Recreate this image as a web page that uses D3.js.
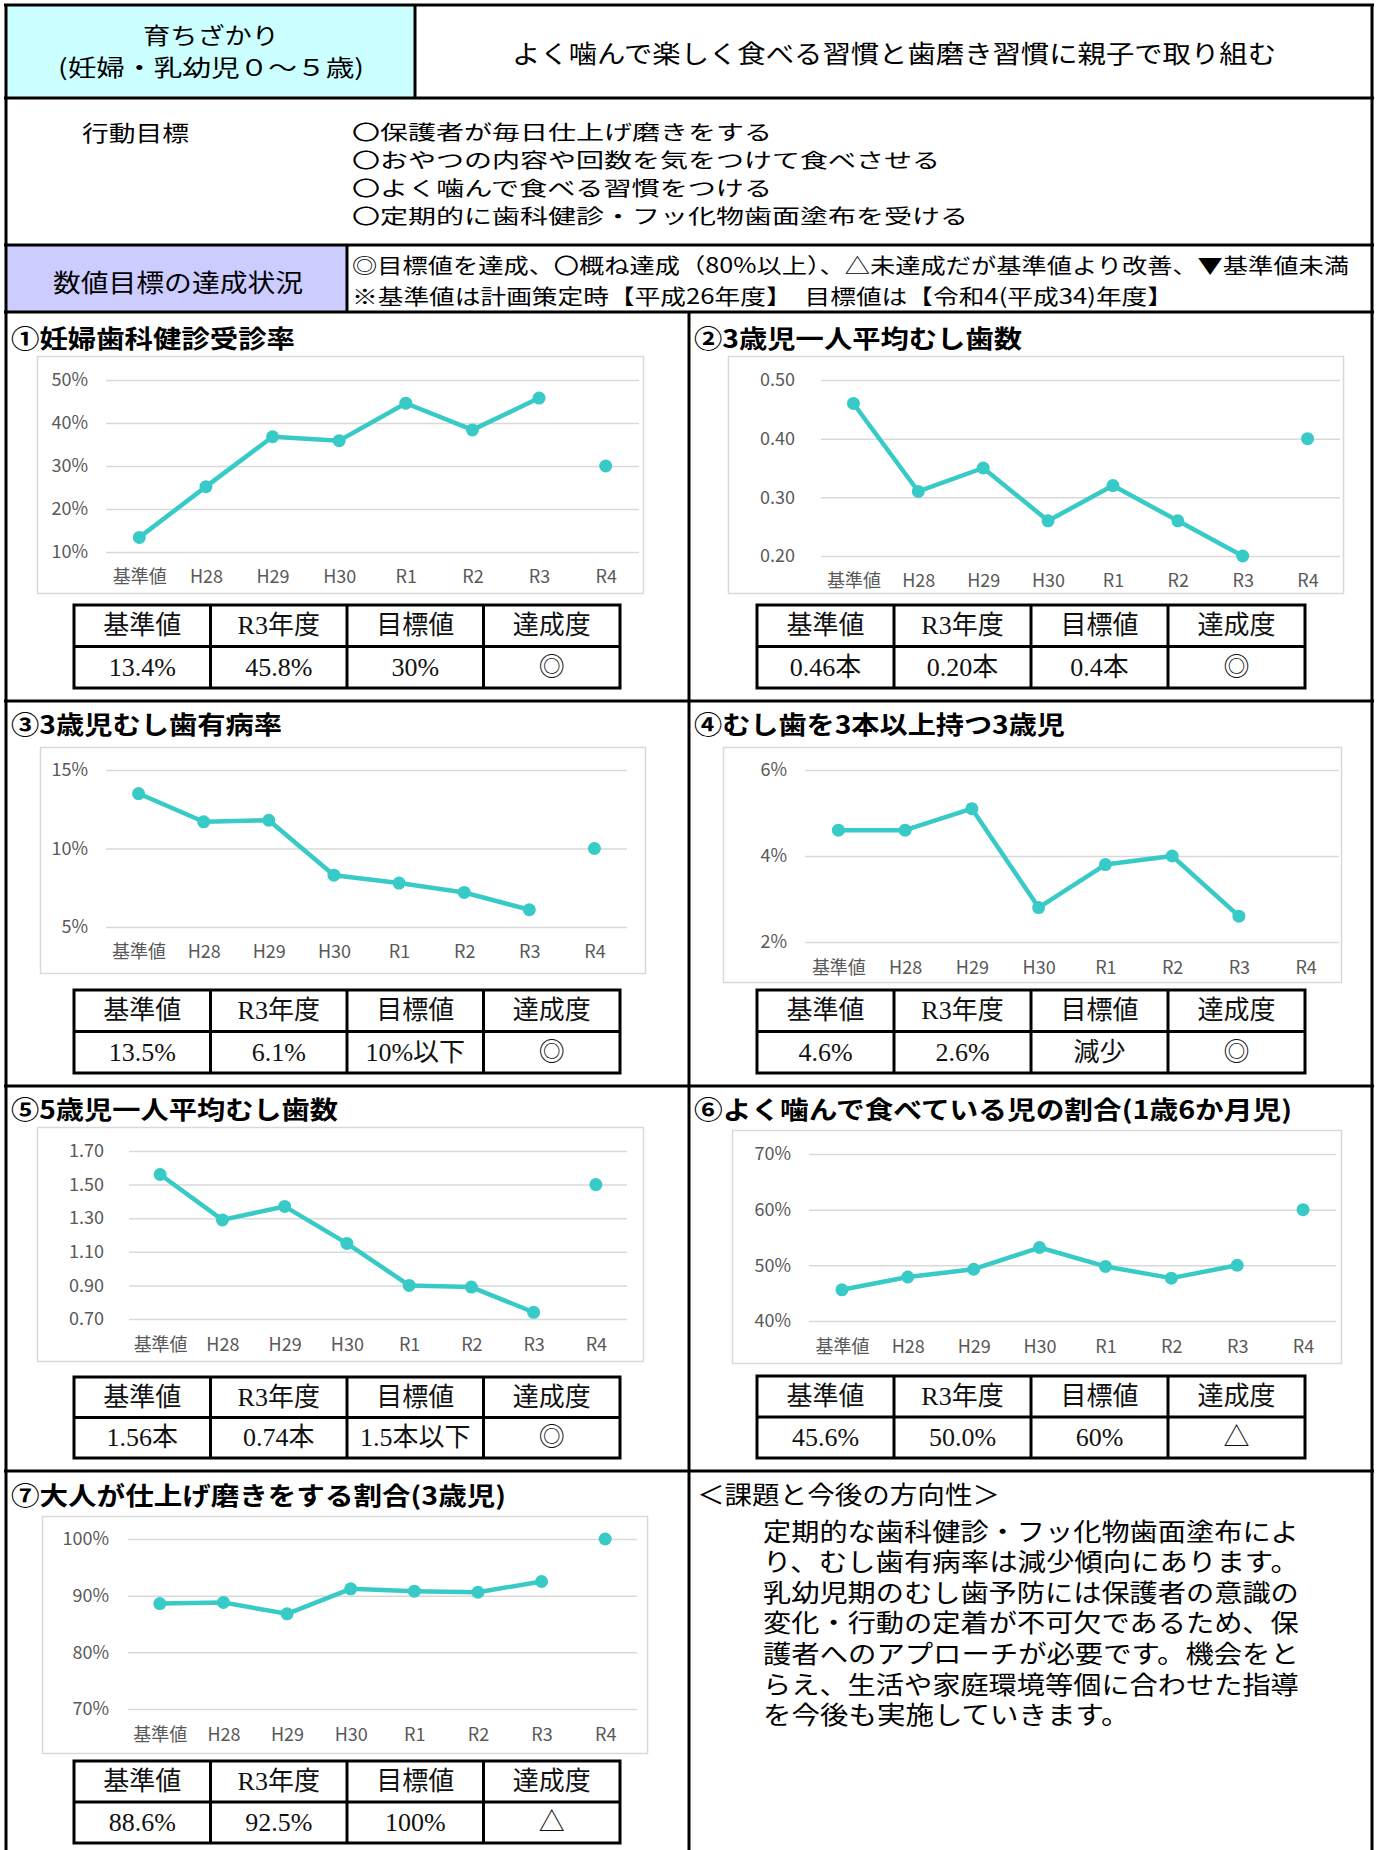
<!DOCTYPE html>
<html>
<head>
<meta charset="utf-8">
<script src="https://cdn.jsdelivr.net/npm/d3@7"></script>
<style>
  body { margin: 0; background: #fff; }
  svg { display: block; }
</style>
</head>
<body>
<div id="sheet"></div>
<script>
// categories shared by every chart
const years = ["基準値", "H28", "H29", "H30", "R1", "R2", "R3", "R4"];
const tableHeads = ["基準値", "R3年度", "目標値", "達成度"];

// ① 妊婦歯科健診受診率 (%)
const c1Values = [13.4, 25.2, 36.8, 35.9, 44.6, 38.4, 45.8];
const c1Target = 30;
const c1Ticks = [10, 20, 30, 40, 50];
const c1Table = ["13.4%", "45.8%", "30%", "◎"];

// ② 3歳児一人平均むし歯数 (本)
const c2Values = [0.46, 0.31, 0.35, 0.26, 0.32, 0.26, 0.20];
const c2Target = 0.40;
const c2Ticks = [0.2, 0.3, 0.4, 0.5];
const c2Table = ["0.46本", "0.20本", "0.4本", "◎"];

// ③ 3歳児むし歯有病率 (%)
const c3Values = [13.5, 11.7, 11.8, 8.3, 7.8, 7.2, 6.1];
const c3Target = 10;
const c3Ticks = [5, 10, 15];
const c3Table = ["13.5%", "6.1%", "10%以下", "◎"];

// ④ むし歯を3本以上持つ3歳児 (%)
const c4Values = [4.6, 4.6, 5.1, 2.8, 3.8, 4.0, 2.6];
const c4Target = null;
const c4Ticks = [2, 4, 6];
const c4Table = ["4.6%", "2.6%", "減少", "◎"];

// ⑤ 5歳児一人平均むし歯数 (本)
const c5Values = [1.56, 1.29, 1.37, 1.15, 0.90, 0.89, 0.74];
const c5Target = 1.50;
const c5Ticks = [0.7, 0.9, 1.1, 1.3, 1.5, 1.7];
const c5Table = ["1.56本", "0.74本", "1.5本以下", "◎"];

// ⑥ よく噛んで食べている児の割合 (%)
const c6Values = [45.6, 47.9, 49.3, 53.2, 49.8, 47.7, 50.0];
const c6Target = 60;
const c6Ticks = [40, 50, 60, 70];
const c6Table = ["45.6%", "50.0%", "60%", "△"];

// ⑦ 大人が仕上げ磨きをする割合 (%)
const c7Values = [88.6, 88.8, 86.8, 91.2, 90.8, 90.6, 92.5];
const c7Target = 100;
const c7Ticks = [70, 80, 90, 100];
const c7Table = ["88.6%", "92.5%", "100%", "△"];

const goals = [
  "〇保護者が毎日仕上げ磨きをする",
  "〇おやつの内容や回数を気をつけて食べさせる",
  "〇よく噛んで食べる習慣をつける",
  "〇定期的に歯科健診・フッ化物歯面塗布を受ける"
];
const notes = [
  "◎目標値を達成、〇概ね達成（80%以上）、△未達成だが基準値より改善、▼基準値未満",
  "※基準値は計画策定時【平成26年度】　目標値は【令和4(平成34)年度】"
];
const comment = [
  "定期的な歯科健診・フッ化物歯面塗布によ",
  "り、むし歯有病率は減少傾向にあります。",
  "乳幼児期のむし歯予防には保護者の意識の",
  "変化・行動の定着が不可欠であるため、保",
  "護者へのアプローチが必要です。機会をと",
  "らえ、生活や家庭環境等個に合わせた指導",
  "を今後も実施していきます。"
];

const W = 1378, H = 1850;
const lineColor = "#38cac7";
const gothic = "'Noto Sans CJK JP', 'Noto Sans', sans-serif";
const mincho = "'Liberation Serif', 'Noto Sans CJK JP', serif";

const svg = d3.select("#sheet").append("svg")
  .attr("width", W).attr("height", H);

// background cells
svg.append("rect").attr("x", 6).attr("y", 5).attr("width", 409).attr("height", 93).attr("fill", "#ccffff");
svg.append("rect").attr("x", 6).attr("y", 245).attr("width", 341).attr("height", 67).attr("fill", "#ccccff");

function txt(g, s, x, y, opt) {
  const t = g.append("text")
    .attr("x", x).attr("y", y)
    .attr("dominant-baseline", "central")
    .attr("font-family", opt.font || gothic)
    .attr("font-size", opt.size || 24)
    .attr("font-weight", opt.weight || "normal")
    .attr("fill", opt.fill || "#000")
    .attr("text-anchor", opt.anchor || "start")
    .text(s);
  if (opt.len) t.attr("textLength", opt.len).attr("lengthAdjust", "spacingAndGlyphs");
  return t;
}

// header
txt(svg, "育ちざかり", 211, 34, {anchor: "middle", size: 23, len: 136});
txt(svg, "(妊婦・乳幼児０～５歳)", 211, 66, {anchor: "middle", size: 23, len: 306});
txt(svg, "よく噛んで楽しく食べる習慣と歯磨き習慣に親子で取り組む", 894, 52, {anchor: "middle", size: 25, len: 764});

// 行動目標
txt(svg, "行動目標", 82, 131, {size: 22, len: 107});
goals.forEach((s, i) => {
  txt(svg, s, 352, 131 + i * 28, {size: 20, len: [...s].length * 28});
});

// 数値目標
txt(svg, "数値目標の達成状況", 178, 281, {anchor: "middle", size: 25, len: 250});
txt(svg, notes[0], 352, 264, {size: 21, len: 997});
txt(svg, notes[1], 352, 295, {size: 21, len: 821});

// chart panels
const panels = [
  {title: "①妊婦歯科健診受診率", tx: 11, ty: 337, tlen: 284,
   values: c1Values, target: c1Target, ticks: c1Ticks, table: c1Table, fmt: d => d + "%",
   box: [37, 356, 606, 237], px: [106, 639], py: [380, 552], lx: 88, xl: 577, tab: [74, 605, 546, 83]},
  {title: "②3歳児一人平均むし歯数", tx: 694, ty: 337, tlen: 328,
   values: c2Values, target: c2Target, ticks: c2Ticks, table: c2Table, fmt: d3.format(".2f"),
   box: [728, 356, 615, 237], px: [821, 1340], py: [380, 556], lx: 795, xl: 581, tab: [757, 605, 548, 83]},
  {title: "③3歳児むし歯有病率", tx: 11, ty: 723, tlen: 271,
   values: c3Values, target: c3Target, ticks: c3Ticks, table: c3Table, fmt: d => d + "%",
   box: [40, 747, 605, 226], px: [106, 627], py: [770, 927], lx: 88, xl: 952, tab: [74, 990, 546, 83]},
  {title: "④むし歯を3本以上持つ3歳児", tx: 694, ty: 723, tlen: 371,
   values: c4Values, target: c4Target, ticks: c4Ticks, table: c4Table, fmt: d => d + "%",
   box: [723, 747, 618, 235], px: [805, 1339], py: [770, 942], lx: 787, xl: 968, tab: [757, 990, 548, 83]},
  {title: "⑤5歳児一人平均むし歯数", tx: 11, ty: 1108, tlen: 327,
   values: c5Values, target: c5Target, ticks: c5Ticks, table: c5Table, fmt: d3.format(".2f"),
   box: [37, 1127, 606, 234], px: [129, 627], py: [1151, 1319], lx: 104, xl: 1345, tab: [74, 1377, 546, 81]},
  {title: "⑥よく噛んで食べている児の割合(1歳6か月児)", tx: 694, ty: 1108, tlen: 598,
   values: c6Values, target: c6Target, ticks: c6Ticks, table: c6Table, fmt: d => d + "%",
   box: [732, 1130, 609, 233], px: [809, 1336], py: [1154, 1321], lx: 791, xl: 1347, tab: [757, 1376, 548, 82]},
  {title: "⑦大人が仕上げ磨きをする割合(3歳児)", tx: 11, ty: 1494, tlen: 495,
   values: c7Values, target: c7Target, ticks: c7Ticks, table: c7Table, fmt: d => d + "%",
   box: [42, 1516, 605, 237], px: [128, 637], py: [1539, 1709], lx: 109, xl: 1735, tab: [74, 1761, 546, 82]}
];

panels.forEach(p => {
  const g = svg.append("g");
  txt(g, p.title, p.tx, p.ty, {size: 25, weight: "bold", len: p.tlen});

  // chart area frame
  g.append("rect")
    .attr("x", p.box[0] + 0.5).attr("y", p.box[1] + 0.5)
    .attr("width", p.box[2]).attr("height", p.box[3])
    .attr("fill", "#fff").attr("stroke", "#d9d9d9").attr("stroke-width", 1.5);

  const x = d3.scalePoint().domain(years).range(p.px).padding(0.5);
  const y = d3.scaleLinear()
    .domain([d3.min(p.ticks), d3.max(p.ticks)])
    .range([p.py[1], p.py[0]]);

  // y axis with gridlines
  const ya = g.append("g")
    .attr("transform", `translate(${p.px[0]},0)`)
    .call(d3.axisLeft(y).tickValues(p.ticks).tickFormat(p.fmt)
      .tickSize(-(p.px[1] - p.px[0])).tickPadding(p.px[0] - p.lx));
  ya.select(".domain").remove();
  ya.selectAll("line").attr("stroke", "#d9d9d9").attr("stroke-width", 1.5);
  ya.selectAll("text").attr("fill", "#595959").attr("font-size", 18).attr("font-family", gothic);

  // x axis labels
  const xa = g.append("g")
    .attr("transform", `translate(0,${p.xl})`)
    .call(d3.axisBottom(x).tickSize(0).tickPadding(0));
  xa.select(".domain").remove();
  xa.selectAll("text").attr("dy", "0.35em")
    .attr("fill", "#595959").attr("font-size", 18).attr("font-family", gothic);

  // actual values
  const pts = p.values.map((v, i) => ({k: years[i], v: v}));
  g.append("path").datum(pts)
    .attr("fill", "none").attr("stroke", lineColor).attr("stroke-width", 4.5)
    .attr("stroke-linejoin", "round")
    .attr("d", d3.line().x(d => x(d.k)).y(d => y(d.v)));
  g.selectAll("circle.pt").data(pts).enter().append("circle")
    .attr("class", "pt")
    .attr("cx", d => x(d.k)).attr("cy", d => y(d.v)).attr("r", 6.5)
    .attr("fill", lineColor);

  // target value at R4
  if (p.target !== null) {
    g.append("circle")
      .attr("cx", x("R4")).attr("cy", y(p.target)).attr("r", 6.5)
      .attr("fill", lineColor);
  }

  // summary table
  const [tx0, ty0, tw, th] = p.tab;
  const cw = tw / 4, rh = th / 2;
  const tg = g.append("g");
  tg.append("rect").attr("x", tx0).attr("y", ty0).attr("width", tw).attr("height", th)
    .attr("fill", "none").attr("stroke", "#000").attr("stroke-width", 3);
  tg.append("line").attr("x1", tx0).attr("x2", tx0 + tw).attr("y1", ty0 + rh).attr("y2", ty0 + rh)
    .attr("stroke", "#000").attr("stroke-width", 3);
  d3.range(1, 4).forEach(i => {
    tg.append("line").attr("x1", tx0 + i * cw).attr("x2", tx0 + i * cw)
      .attr("y1", ty0).attr("y2", ty0 + th).attr("stroke", "#000").attr("stroke-width", 3);
  });
  tableHeads.forEach((s, i) => {
    txt(tg, s, tx0 + (i + 0.5) * cw, ty0 + rh / 2, {anchor: "middle", size: 26, font: mincho, fill: "#111"});
  });
  p.table.forEach((s, i) => {
    txt(tg, s, tx0 + (i + 0.5) * cw, ty0 + rh * 1.5, {anchor: "middle", size: 26, font: mincho, fill: "#111"});
  });
});

// 課題と今後の方向性
txt(svg, "＜課題と今後の方向性＞", 697, 1495, {size: 25, font: mincho, len: 303});
comment.forEach((s, i) => {
  txt(svg, s, 763, 1532 + i * 30.6, {size: 25, font: mincho, len: [...s].length * 28.2});
});

// ruled frame of the sheet
const rules = [
  [4, 5, 1374, 5], [6, 4, 6, 1850], [1372, 4, 1372, 1850],
  [4, 98, 1374, 98], [4, 245, 1374, 245], [4, 312, 1374, 312],
  [4, 701, 1374, 701], [4, 1086, 1374, 1086], [4, 1471, 1374, 1471],
  [415, 5, 415, 98], [347, 245, 347, 312], [689, 312, 689, 1850]
];
svg.selectAll("line.rule").data(rules).enter().append("line")
  .attr("class", "rule")
  .attr("x1", d => d[0]).attr("y1", d => d[1]).attr("x2", d => d[2]).attr("y2", d => d[3])
  .attr("stroke", "#000").attr("stroke-width", 3);
</script>
</body>
</html>
